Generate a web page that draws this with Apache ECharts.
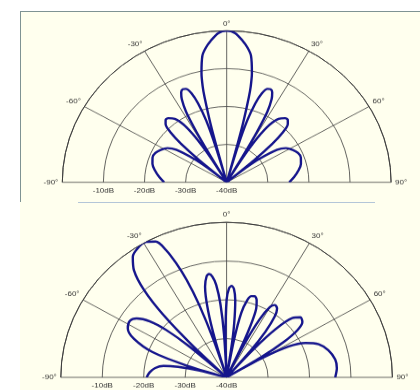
<!DOCTYPE html>
<html>
<head>
<meta charset="utf-8">
<script src="https://cdn.jsdelivr.net/npm/echarts@6/dist/echarts.min.js"></script>
<style>
  html, body { margin: 0; padding: 0; background: #ffffff; width: 420px; height: 390px; overflow: hidden; }
  .panel { position: absolute; background: #ffffee; }
  #panelTop { left: 20px; top: 11px; width: 400px; height: 191px; border-top: 1px solid #7f9393; border-left: 1px solid #7f9393; box-sizing: border-box; }
  #panelBottom { left: 20px; top: 202px; width: 400px; height: 188px; }
  #divider { position: absolute; left: 78px; top: 202px; width: 297px; height: 1px; background: #b4c6d8; }
  .chart { position: absolute; left: 0; width: 420px; transform-origin: 0 0; }
  #chartTop { top: 0; height: 232px; transform: scaleY(0.922); }
  #chartBottom { top: 195px; height: 215px; transform: scaleY(0.935); }
</style>
</head>
<body>
<div id="panelTop" class="panel"></div>
<div id="panelBottom" class="panel"></div>
<div id="divider"></div>
<div id="chartTop" class="chart"></div>
<div id="chartBottom" class="chart"></div>
<script>
// Broadside pattern (beam at 0°): angle in degrees, gain in dB
const broadsideAngles = [
  -90, -85, -80, -75, -70, -66, -62, -58, -55, -52, -50.5, -49.5,
  -48.7, -47.5, -46, -44, -42, -40, -37, -34.5, -32.5, -31, -30,
  -29.6, -29, -28, -26.5, -25, -23.5, -22, -20, -18.5, -17, -16, -15.2,
  -14.8, -14.3, -13.5, -13, -12, -10, -8, -6, -3, 0,
  3, 6, 8, 10, 12, 13, 13.5, 14.3, 14.8,
  15.2, 16, 17, 18.5, 20, 22, 23.5, 25, 26.5, 28, 29, 29.6,
  30, 31, 32.5, 34.5, 37, 40, 42, 44, 46, 47.5, 48.7,
  49.5, 50.5, 52, 55, 58, 62, 66, 70, 75, 80, 85, 90
];
const broadsideGain = [
  -24.8, -23.5, -22.3, -21.3, -20.8, -21, -21.8, -23, -25, -30, -34, -40,
  -31, -25, -21, -18.6, -17.8, -17.9, -19, -21.5, -26, -32, -40,
  -32, -25, -19, -15.5, -13.8, -13.2, -13.4, -15, -18, -23, -30, -40,
  -32, -24, -17, -14, -10.5, -6, -4, -2.5, -0.6, 0,
  -0.6, -2.5, -4, -6, -10.5, -14, -17, -24, -32,
  -40, -30, -23, -18, -15, -13.4, -13.2, -13.8, -15.5, -19, -25, -32,
  -40, -32, -26, -21.5, -19, -17.9, -17.8, -18.6, -21, -25, -31,
  -40, -34, -30, -25, -23, -21.8, -21, -20.8, -21.3, -22.3, -23.5, -24.8
];

// Steered pattern (beam at -30°): angle in degrees, gain in dB
const steeredAngles = [
  -90, -86, -82, -79, -77, -75, -73.5,
  -72.5, -70, -66, -62, -58, -55, -52, -50, -48.5, -47,
  -46, -45, -43.5, -41.5, -39, -36, -32, -29, -26, -24, -22.5, -21, -19.5, -18, -17,
  -16, -14.5, -12.5, -10.5, -9, -7.5, -6, -4.5, -3.2, -2.5,
  -1.5, 0, 1.5, 3, 4.5, 6, 7.5, 8.5, 9.5,
  10.5, 12, 14, 16, 18, 20, 22, 23.5, 24.5, 25.5,
  26.5, 28, 30, 32, 34.5, 36.5, 38.5, 40, 41,
  42, 43.5, 46, 49, 52, 54.5, 56.5, 58, 59,
  60, 62, 65, 69, 74, 80, 85, 90
];
const steeredGain = [
  -20.7, -21.4, -22.6, -24.5, -28, -33, -40,
  -30, -21, -15.5, -13, -12.5, -13.5, -16.5, -21, -28, -40,
  -40, -28, -18, -10, -4.5, -1.5, -0.2, 0, -1, -4, -8, -13, -20, -30, -40,
  -30, -22, -16, -13.5, -13, -13.8, -16, -21, -29, -40,
  -30, -20, -17, -16.4, -17.2, -20, -26, -32, -40,
  -30, -23, -19.5, -18.2, -18, -18.8, -21, -26, -32, -40,
  -30, -23, -19, -18, -18.5, -20.5, -25, -31, -40,
  -30, -23, -18, -16.4, -16.8, -19, -23.5, -30, -40,
  -30, -23, -19, -16.2, -14.5, -13.4, -13.3, -13.8
];

// Axis ticks
const angleTicks = [-90, -60, -30, 0, 30, 60, 90];
const gainRings = [-40, -30, -20, -10, 0];

const lineColor = '#16168c';
const gridColor = '#3c3c3c';
const labelStyle = { color: '#333333', fontSize: 8, fontFamily: 'Liberation Sans, Arial, sans-serif' };

function pairs(angles, gains) {
  return angles.map((a, i) => [gains[i], a]);
}

function makeOption(center, radius, angles, gains) {
  return {
    animation: false,
    backgroundColor: 'transparent',
    polar: { center: center, radius: radius },
    angleAxis: {
      type: 'value',
      min: angleTicks[0],
      max: angleTicks[angleTicks.length - 1],
      interval: 30,
      startAngle: 180,
      endAngle: 0,
      clockwise: true,
      axisLine: { show: true, lineStyle: { color: gridColor, width: 1 } },
      axisTick: { show: false },
      axisLabel: Object.assign({ margin: 4, formatter: v => v + '°' }, labelStyle),
      splitLine: { show: true, lineStyle: { color: gridColor, width: 0.8 } }
    },
    radiusAxis: {
      type: 'value',
      min: gainRings[0],
      max: gainRings[gainRings.length - 1],
      interval: 10,
      axisLine: { show: false },
      axisTick: { show: false },
      axisLabel: Object.assign({ margin: 5, showMaxLabel: false, formatter: v => v + 'dB' }, labelStyle),
      splitLine: { show: true, lineStyle: { color: gridColor, width: 0.8 } }
    },
    series: [{
      type: 'line',
      coordinateSystem: 'polar',
      data: pairs(angles, gains),
      showSymbol: false,
      smooth: 0.3,
      lineStyle: { color: lineColor, width: 2.4 },
      z: 5
    }]
  };
}

const topChart = echarts.init(document.getElementById('chartTop'), null, { renderer: 'canvas' });
topChart.setOption(makeOption([226.7, 197.7], 164.4, broadsideAngles, broadsideGain));

const bottomChart = echarts.init(document.getElementById('chartBottom'), null, { renderer: 'canvas' });
bottomChart.setOption(makeOption([226.6, 195.0], 165.8, steeredAngles, steeredGain));
</script>
</body>
</html>
